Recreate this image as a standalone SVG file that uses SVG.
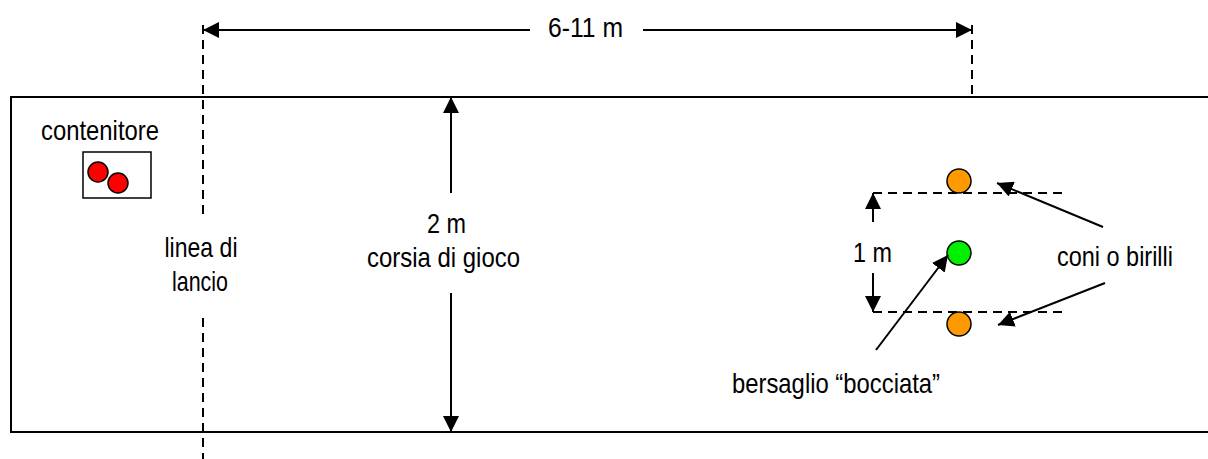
<svg xmlns="http://www.w3.org/2000/svg" width="1208" height="459" viewBox="0 0 1208 459">
<style>
.lbl{font-family:"Liberation Sans",Arial,sans-serif;font-size:28px;fill:#000;text-anchor:middle}
.solid{stroke:#000;stroke-width:2;fill:none}
.dash{stroke:#000;stroke-width:2;fill:none;stroke-dasharray:9,6}
.ball{stroke:#000;stroke-width:1.5}
</style>
<defs>
<marker id="ah" markerUnits="userSpaceOnUse" markerWidth="17" markerHeight="16" refX="16" refY="8" orient="auto">
<path d="M0,0 L16,8 L0,16 z" fill="#000"/>
</marker>
</defs>
<rect width="1208" height="459" fill="#fff"/>

<g id="lane">
<rect x="11" y="97" width="1210" height="335" fill="none" stroke="#000" stroke-width="2"/>
</g>

<g id="container">
<text class="lbl" x="100" y="140" textLength="118" lengthAdjust="spacingAndGlyphs">contenitore</text>
<rect x="83" y="152" width="68" height="46" fill="none" stroke="#000" stroke-width="1.5"/>
<circle class="ball" cx="98" cy="172" r="10" fill="#ff0000"/>
<circle class="ball" cx="118" cy="183" r="10" fill="#ff0000"/>
</g>

<g id="launch-line">
<line class="dash" x1="203" y1="25" x2="203" y2="215"/>
<line class="dash" x1="203" y1="318" x2="203" y2="459"/>
<text class="lbl" x="201" y="257" textLength="73" lengthAdjust="spacingAndGlyphs">linea di</text>
<text class="lbl" x="200" y="291" textLength="56" lengthAdjust="spacingAndGlyphs">lancio</text>
</g>

<g id="target-line">
<line class="dash" x1="972" y1="25" x2="972" y2="97"/>
</g>

<g id="distance-label">
<text class="lbl" x="585.5" y="37" textLength="75" lengthAdjust="spacingAndGlyphs">6-11 m</text>
</g>

<g id="width-label">
<text class="lbl" x="446.5" y="233" textLength="39" lengthAdjust="spacingAndGlyphs">2 m</text>
<text class="lbl" x="443.5" y="267" textLength="153" lengthAdjust="spacingAndGlyphs">corsia di gioco</text>
</g>

<g id="target-zone">
<line class="dash" x1="873" y1="193" x2="1067" y2="193"/>
<line class="dash" x1="873" y1="312" x2="1063" y2="312"/>
<text class="lbl" x="872.5" y="262" textLength="39" lengthAdjust="spacingAndGlyphs">1 m</text>
</g>

<g id="cone-top">
<circle class="ball" cx="959" cy="181" r="12" fill="#ff9900"/>
</g>
<g id="target">
<circle class="ball" cx="959" cy="253" r="12" fill="#00ee00"/>
</g>
<g id="cone-bottom">
<circle class="ball" cx="959" cy="324" r="12" fill="#ff9900"/>
</g>

<g id="cones-label">
<text class="lbl" x="1115" y="266" textLength="116" lengthAdjust="spacingAndGlyphs">coni o birilli</text>
</g>
<g id="target-label">
<text class="lbl" x="836" y="393" textLength="208" lengthAdjust="spacingAndGlyphs">bersaglio “bocciata”</text>
</g>

<g id="connectors">
<line class="solid" x1="530" y1="30" x2="203" y2="30" marker-end="url(#ah)"/>
<line class="solid" x1="643" y1="30" x2="972" y2="30" marker-end="url(#ah)"/>
<line class="solid" x1="451" y1="193" x2="451" y2="97" marker-end="url(#ah)"/>
<line class="solid" x1="451" y1="293" x2="451" y2="432" marker-end="url(#ah)"/>
<line class="solid" x1="873" y1="222" x2="873" y2="193" marker-end="url(#ah)"/>
<line class="solid" x1="873" y1="273" x2="873" y2="312" marker-end="url(#ah)"/>
<line class="solid" x1="1103" y1="227" x2="997" y2="183" marker-end="url(#ah)"/>
<line class="solid" x1="1105" y1="283" x2="998" y2="325" marker-end="url(#ah)"/>
<line class="solid" x1="876" y1="350" x2="948" y2="255" marker-end="url(#ah)"/>
</g>
</svg>
